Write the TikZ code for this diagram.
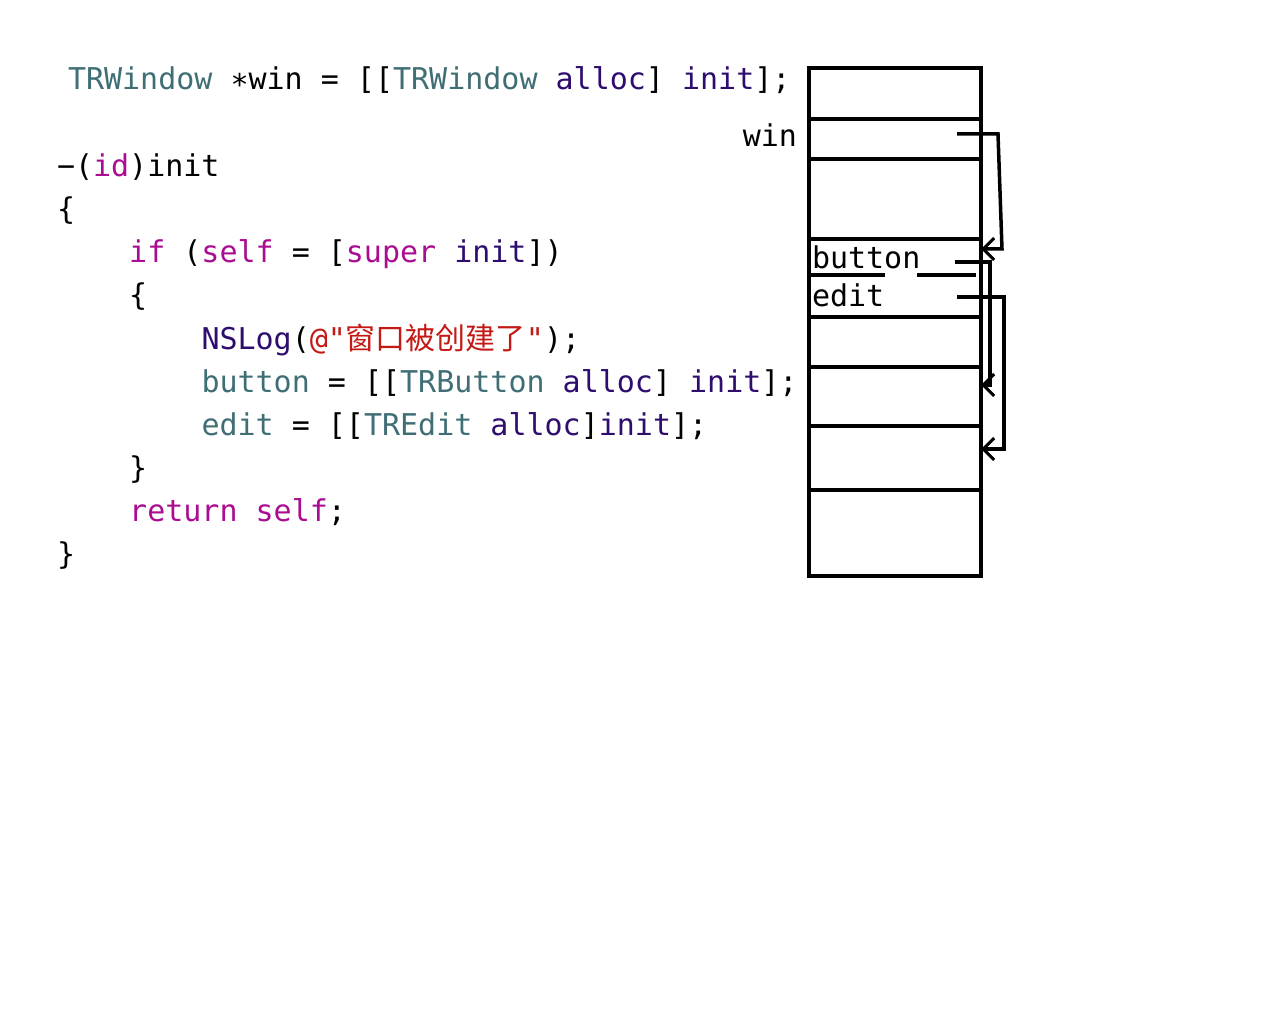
\documentclass[tikz,border=0pt]{standalone}
\usepackage{fontspec}
\setmonofont{DejaVu Sans Mono}
\newfontfamily\cjk{Noto Sans CJK SC}
\usetikzlibrary{arrows.meta}
\definecolor{cls}{HTML}{3F6E74}
\definecolor{meth}{HTML}{2E0D6E}
\definecolor{kw}{HTML}{AA0D91}
\definecolor{str}{HTML}{C41A16}
\newcommand{\Cl}[1]{\textcolor{cls}{#1}}
\newcommand{\Me}[1]{\textcolor{meth}{#1}}
\newcommand{\Kw}[1]{\textcolor{kw}{#1}}
\newcommand{\St}[1]{\textcolor{str}{#1}}
\begin{document}
\begin{tikzpicture}[x=1pt,y=-1pt,
  code/.style={anchor=base west,inner sep=0pt,outer sep=0pt,font=\ttfamily\fontsize{30}{36}\selectfont},
  mem/.style={line width=3.5pt},
  ptr/.style={line width=3.5pt,-{Straight Barb[length=11pt,width=22pt,line width=3pt]}}]
\useasboundingbox (0,0) rectangle (1280,1024);
% code
\node[code] (l1) at (68,90) {\Cl{TRWindow}\ ∗win\ =\ [[\Cl{TRWindow}\ \Me{alloc}]\ \Me{init}];};
\node[code] (l2) at (57,177) {−(\Kw{id})init};
\node[code] (l3) at (57,220) {\{};
\node[code] (l4) at (129.2,263) {\Kw{if}\ (\Kw{self}\ =\ [\Kw{super}\ \Me{init}])};
\node[code] (l5) at (129.2,306) {\{};
\node[code] (l6) at (201.5,349) {\Me{NSLog}(\St{@"{\cjk 窗口被创建了}"});};
\node[code] (l7) at (201.5,392) {\Cl{button}\ =\ [[\Cl{TRButton}\ \Me{alloc}]\ \Me{init}];};
\node[code] (l8) at (201.5,435) {\Cl{edit}\ =\ [[\Cl{TREdit}\ \Me{alloc}]\Me{init}];};
\node[code] (l9) at (129.2,478) {\}};
\node[code] (l10) at (129.2,521) {\Kw{return}\ \Kw{self};};
\node[code] (l11) at (57,564) {\}};
% memory column
\draw[mem] (809,68) rectangle (981,576);
\foreach \yy in {119,159,239,317,367,426,490}
  \draw[mem] (809,\yy) -- (981,\yy);
\draw[mem] (809,275) -- (885,275);
\draw[mem] (917,275) -- (976,275);
\node[code,anchor=base east] (win) at (797,147) {win};
\node[code] (button) at (812,269) {button};
\node[code] (edit) at (812,307) {edit};
% pointers
\coordinate (pw) at (957,134);
\coordinate (tw) at (981,249);
\coordinate (pb) at (955,262);
\coordinate (tb) at (981,385);
\coordinate (pe) at (957,297);
\coordinate (te) at (981,449);
\draw[ptr] (pw) -- (998,134) -- (1002,249) -- (tw);
\draw[ptr] (pb) -- (990,262) -- (990,385) -- (tb);
\draw[ptr] (pe) -- (1004,297) -- (1004,449) -- (te);
\end{tikzpicture}
\end{document}
